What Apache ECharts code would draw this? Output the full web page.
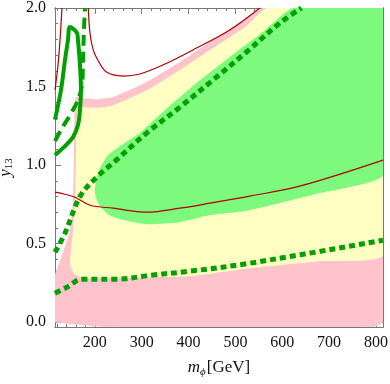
<!DOCTYPE html>
<html>
<head>
<meta charset="utf-8">
<script src="https://cdn.jsdelivr.net/npm/echarts@6/dist/echarts.min.js"></script>
<style>
html, body { margin: 0; padding: 0; background: #fff; }
#chart { width: 390px; height: 384px; }
</style>
</head>
<body>
<div id="chart"></div>
<script>
// tick positions
var xMajor = [200, 300, 400, 500, 600, 700, 800];
var xMinor = [120, 140, 160, 180, 200, 220, 240, 260, 280, 300, 320, 340, 360, 380, 400,
              420, 440, 460, 480, 500, 520, 540, 560, 580, 600, 620, 640, 660, 680, 700,
              720, 740, 760, 780, 800];
var yMajor = [0, 0.5, 1.0, 1.5, 2.0];
var yMinor = [0, 0.1, 0.2, 0.3, 0.4, 0.5, 0.6, 0.7, 0.8, 0.9, 1.0,
              1.1, 1.2, 1.3, 1.4, 1.5, 1.6, 1.7, 1.8, 1.9, 2.0];

// shaded regions [m_phi, y13]
var pinkRegion = [[115, 0], [815, 0], [815, 2.0], [558.5, 2.0], [523.7, 1.936], [451.9, 1.796],
  [381.5, 1.656], [310.5, 1.529], [238.7, 1.433], [204, 1.42], [168.3, 1.427], [162, 1.433],
  [157.6, 1.414], [155.5, 1.096], [153.4, 0.777], [147, 0.586], [130, 0.427], [115, 0.299]];
var yellowRegion = [[567, 2.0], [523.7, 1.886], [451.9, 1.745], [381.5, 1.605], [310.5, 1.476],
  [238.7, 1.38], [211, 1.366], [168.3, 1.366], [163, 1.35], [160.5, 1.25], [159.8, 1.096],
  [157.6, 0.777], [153.4, 0.586], [149.1, 0.459], [147, 0.376], [151.2, 0.331], [159.8, 0.299],
  [179, 0.28], [317.5, 0.287], [403, 0.293], [530.7, 0.344], [680, 0.389], [815, 0.427],
  [815, 2.0]];
var greenRegion = [[622.5, 2.0], [558.5, 1.847], [488, 1.688], [417, 1.522], [345, 1.338],
  [296, 1.204], [253.6, 1.121], [228, 1.064], [211, 0.981], [202.4, 0.904], [200.3, 0.828],
  [204.5, 0.777], [213, 0.732], [228, 0.688], [253.6, 0.656], [311, 0.624], [381.5, 0.637],
  [445.5, 0.682], [530.7, 0.713], [680, 0.822], [815, 0.936], [815, 2.0]];

// curves
var redUpper = [[186, 2.0], [189.6, 1.841], [196, 1.74], [204, 1.682], [225, 1.592],
  [260.6, 1.567], [296, 1.58], [345, 1.637], [417, 1.745], [488, 1.86], [552, 2.0]];
var redLeft = [[129.9, 2.0], [125.7, 1.796], [121.4, 1.637], [115, 1.478]];
var redLower = [[115, 0.828], [136, 0.815], [157.6, 0.796], [189.6, 0.745], [238.7, 0.726],
  [311, 0.701], [381.5, 0.726], [445.5, 0.758], [530.7, 0.803], [637, 0.866], [815, 1.032]];
var greenSolid = [[115, 1.064], [136.3, 1.121], [153.4, 1.178], [164, 1.255], [168.3, 1.35],
  [170.4, 1.478], [168.3, 1.637], [164, 1.796], [161.9, 1.841], [147, 1.879], [142.7, 1.796],
  [136.3, 1.669], [127.8, 1.478], [115, 1.29]];
var greenDashed = [[115, 1.153], [130, 1.236], [147, 1.318], [164, 1.414], [172.6, 1.51],
  [174.7, 1.669], [176.8, 1.86], [179, 2.0]];
var dottedUpper = [[115, 0.446], [136.3, 0.567], [168.3, 0.8], [204, 0.924], [238.7, 1.013],
  [310.5, 1.204], [381.5, 1.369], [451.9, 1.541], [523.7, 1.72], [594.7, 1.904], [641, 2.0]];
var dottedLower = [[115, 0.185], [140.6, 0.223], [172.6, 0.274], [247, 0.274], [317.5, 0.299],
  [402.8, 0.325], [530.7, 0.376], [815, 0.522]];

var FONT = 'Liberation Serif';
var AXIS_COLOR = '#777';
var X_MIN = 115, X_MAX = 815, Y_MIN = -0.03, Y_MAX = 2.0;

function xAxisDef(gridIndex, position, ticks, len, labels) {
    var ax = {
        type: 'value', gridIndex: gridIndex, position: position, min: X_MIN, max: X_MAX,
        axisLine: { show: true, onZero: false, lineStyle: { color: AXIS_COLOR, width: 1 } },
        axisTick: { show: true, inside: true, length: len, customValues: ticks,
                    lineStyle: { color: AXIS_COLOR, width: 1 } },
        axisLabel: { show: labels, customValues: ticks, margin: 8, color: '#111',
                     fontFamily: FONT, fontSize: 16 },
        splitLine: { show: false }
    };
    return ax;
}

function yAxisDef(gridIndex, position, ticks, len, labels) {
    return {
        type: 'value', gridIndex: gridIndex, position: position, min: Y_MIN, max: Y_MAX,
        axisLine: { show: true, onZero: false, lineStyle: { color: AXIS_COLOR, width: 1 } },
        axisTick: { show: true, inside: true, length: len, customValues: ticks,
                    lineStyle: { color: AXIS_COLOR, width: 1 } },
        axisLabel: { show: labels, customValues: ticks, margin: 9, color: '#111',
                     fontFamily: FONT, fontSize: 16,
                     formatter: function (v) { return v.toFixed(1); } },
        splitLine: { show: false }
    };
}

function region(pts, color, z) {
    return {
        type: 'custom', data: pts, z: z, silent: true, clip: true,
        xAxisIndex: 0, yAxisIndex: 0,
        renderItem: function (params, api) {
            if (params.dataIndex !== 0) return;
            var points = pts.map(function (p) { return api.coord(p); });
            return { type: 'polygon', shape: { points: points, smooth: 0.15 }, style: { fill: color } };
        }
    };
}

function curve(pts, color, width, type, z) {
    return {
        type: 'line', data: pts, z: z, silent: true, showSymbol: false, smooth: 0.35,
        xAxisIndex: 0, yAxisIndex: 0,
        lineStyle: { color: color, width: width, type: type, cap: 'butt' }
    };
}

var chart = echarts.init(document.getElementById('chart'));

var xMain = xAxisDef(0, 'bottom', xMajor, 6, true);
xMain.name = '{m|m}{s|ϕ}{g|[GeV]}';
xMain.nameLocation = 'middle';
xMain.nameGap = 31;
xMain.nameTextStyle = { rich: {
    m: { fontFamily: FONT, fontStyle: 'italic', fontSize: 17, color: '#111' },
    s: { fontFamily: FONT, fontStyle: 'italic', fontSize: 11, color: '#111', padding: [9, 1, 0, 0] },
    g: { fontFamily: FONT, fontSize: 17, color: '#111' }
} };

var yMain = yAxisDef(0, 'left', yMajor, 6, true);
yMain.name = '{y|y}{s|13}';
yMain.nameLocation = 'middle';
yMain.nameRotate = 90;
yMain.nameGap = 38;
yMain.nameTextStyle = { rich: {
    y: { fontFamily: FONT, fontStyle: 'italic', fontSize: 17, color: '#111' },
    s: { fontFamily: FONT, fontSize: 11, color: '#111', padding: [9, 0, 0, 0] }
} };

var option = {
    animation: false,
    grid: [
        { left: 55, right: 7, top: 8, bottom: 57, outerBoundsMode: 'none', containLabel: false },
        { left: 55, right: 7, top: 8, bottom: 57, outerBoundsMode: 'none', containLabel: false }
    ],
    xAxis: [
        xMain,
        xAxisDef(0, 'top', xMajor, 6, false),
        xAxisDef(1, 'bottom', xMinor, 3, false),
        xAxisDef(1, 'top', xMinor, 3, false)
    ],
    yAxis: [
        yMain,
        yAxisDef(0, 'right', yMajor, 6, false),
        yAxisDef(1, 'left', yMinor, 3, false),
        yAxisDef(1, 'right', yMinor, 3, false)
    ],
    series: [
        region(pinkRegion, '#ffc4cb', 1),
        region(yellowRegion, '#ffffc4', 2),
        region(greenRegion, '#7dfa7d', 3),
        curve(redUpper, '#b00000', 1.2, 'solid', 4),
        curve(redLeft, '#b00000', 1.2, 'solid', 4),
        curve(redLower, '#b00000', 1.2, 'solid', 4),
        curve(greenSolid, '#00a000', 4, 'solid', 5),
        curve(greenDashed, '#00a000', 4, [11, 6], 5),
        curve(dottedUpper, '#00a000', 5, [6, 4], 5),
        curve(dottedLower, '#00a000', 5, [6, 4], 5)
    ]
};
chart.setOption(option);
</script>
</body>
</html>
